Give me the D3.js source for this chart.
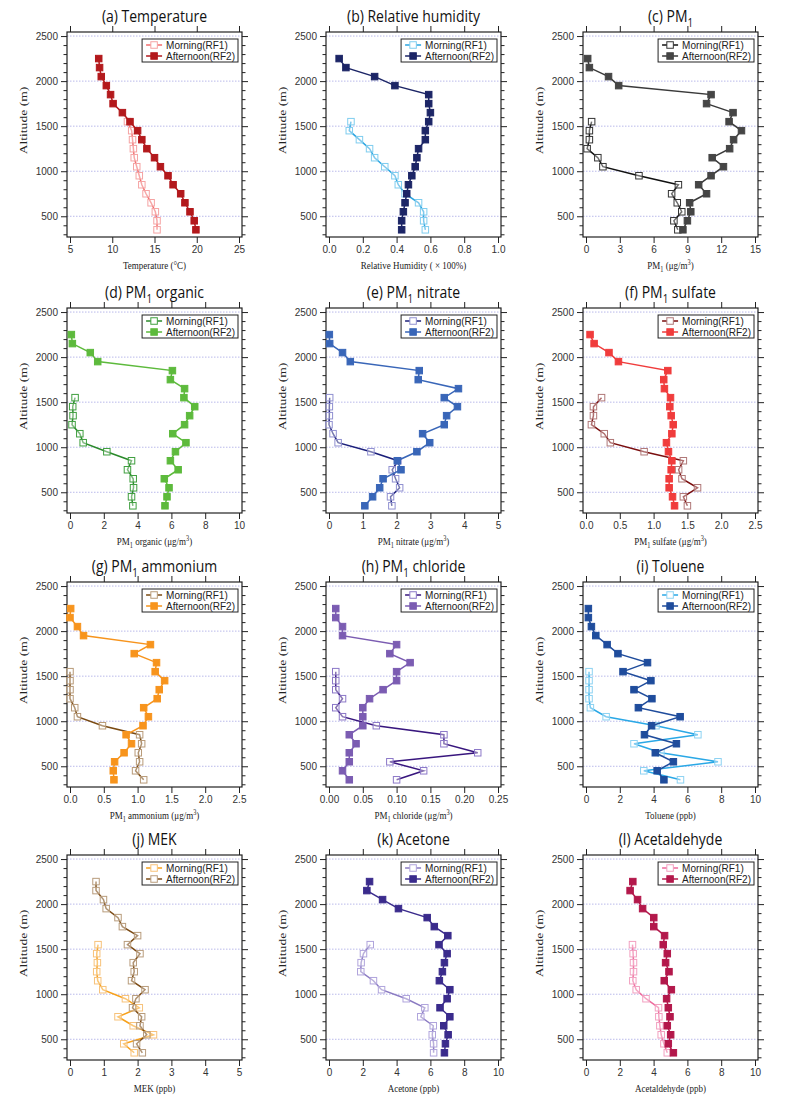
<!DOCTYPE html>
<html>
<head>
<meta charset="utf-8">
<script src="https://cdn.jsdelivr.net/npm/d3@7"></script>
<style>
  body { margin: 0; background: #fff; }
</style>
</head>
<body>
<div id="chart"></div>
<script>
// Altitude bins (m)
const altAfternoon = [2250, 2150, 2050, 1950, 1850, 1750, 1650, 1550, 1450, 1350, 1250, 1150, 1050, 950, 850, 750, 650, 550, 450, 350];
const altMorning = [1550, 1450, 1350, 1250, 1150, 1050, 950, 850, 750, 650, 550, 450, 350];
const altitudeTicks = [500, 1000, 1500, 2000, 2500];

// (a) temperature
const tempMorning = [11.8, 12.3, 12.4, 12.5, 12.6, 12.9, 13.2, 13.5, 14.0, 14.6, 15.1, 15.3, 15.3];
const tempAfternoon = [8.4, 8.5, 8.7, 9.3, 9.8, 10.1, 11.2, 12.1, 13.0, 13.5, 14.1, 15.0, 15.7, 16.6, 17.2, 18.1, 18.6, 19.2, 19.7, 19.9];
const tempTicks = [5, 10, 15, 20, 25];

// (b) relative humidity
const rhMorning = [0.13, 0.12, 0.18, 0.24, 0.27, 0.33, 0.39, 0.41, 0.45, 0.53, 0.56, 0.56, 0.57];
const rhAfternoon = [0.06, 0.10, 0.27, 0.39, 0.59, 0.59, 0.60, 0.59, 0.57, 0.57, 0.53, 0.52, 0.51, 0.49, 0.47, 0.46, 0.45, 0.44, 0.43, 0.43];
const rhTicks = [0, 0.2, 0.4, 0.6, 0.8, 1.0];

// (c) PM1
const pm1Morning = [0.5, 0.3, 0.3, 0.1, 1.05, 1.5, 4.7, 8.2, 7.6, 8.1, 8.5, 7.8, 8.15];
const pm1Afternoon = [0.15, 0.3, 2.0, 2.9, 11.1, 10.7, 13.05, 12.7, 13.8, 13.1, 12.75, 11.2, 12.2, 11.1, 10.0, 10.7, 9.2, 9.3, 9.0, 8.6];
const pm1Ticks = [0, 3, 6, 9, 12, 15];

// (d) PM1 organic
const orgMorning = [0.3, 0.16, 0.18, 0.12, 0.58, 0.78, 2.18, 3.64, 3.4, 3.74, 3.76, 3.64, 3.72];
const orgAfternoon = [0.08, 0.14, 1.2, 1.64, 6.06, 5.94, 6.78, 6.74, 7.38, 7.08, 6.78, 6.08, 6.86, 6.24, 5.94, 6.4, 5.58, 5.86, 5.74, 5.62];
const orgTicks = [0, 2, 4, 6, 8, 10];

// (e) PM1 nitrate
const no3Morning = [0.02, 0.01, 0.01, 0.0, 0.12, 0.27, 1.24, 2.04, 1.87, 1.97, 2.09, 1.82, 1.86];
const no3Afternoon = [0.01, 0.02, 0.4, 0.63, 2.67, 2.64, 3.83, 3.41, 3.8, 3.48, 3.41, 2.77, 2.98, 2.6, 2.02, 2.13, 1.6, 1.5, 1.29, 1.06];
const no3Ticks = [0, 1, 2, 3, 4, 5];

// (f) PM1 sulfate
const so4Morning = [0.23, 0.11, 0.11, 0.08, 0.27, 0.36, 0.86, 1.44, 1.37, 1.42, 1.65, 1.44, 1.5];
const so4Afternoon = [0.06, 0.12, 0.34, 0.48, 1.21, 1.15, 1.16, 1.25, 1.24, 1.26, 1.29, 1.27, 1.19, 1.22, 1.27, 1.26, 1.23, 1.23, 1.28, 1.31];
const so4Ticks = [0, 0.5, 1.0, 1.5, 2.0, 2.5];

// (g) PM1 ammonium
const nh4Morning = [0.0, 0.0, 0.0, 0.0, 0.07, 0.11, 0.48, 1.03, 1.06, 1.01, 1.03, 0.97, 1.09];
const nh4Afternoon = [0.01, 0.0, 0.11, 0.2, 1.19, 0.95, 1.28, 1.26, 1.4, 1.32, 1.29, 1.09, 1.16, 1.08, 0.83, 0.91, 0.8, 0.66, 0.64, 0.65];
const nh4Ticks = [0, 0.5, 1.0, 1.5, 2.0, 2.5];

// (h) PM1 chloride
const chlMorning = [0.01, 0.01, 0.01, 0.02, 0.01, 0.02, 0.07, 0.17, 0.17, 0.22, 0.09, 0.14, 0.10];
const chlAfternoon = [0.01, 0.01, 0.02, 0.02, 0.10, 0.09, 0.12, 0.10, 0.10, 0.08, 0.06, 0.05, 0.05, 0.05, 0.03, 0.04, 0.03, 0.03, 0.02, 0.03];
const chlTicks = [0, 0.05, 0.10, 0.15, 0.20, 0.25];

// (i) toluene
const tolMorning = [0.18, 0.18, 0.18, 0.18, 0.26, 1.19, 4.14, 6.62, 2.84, 4.43, 7.81, 3.42, 5.59];
const tolAfternoon = [0.14, 0.14, 0.32, 0.58, 1.25, 1.89, 3.64, 2.19, 3.84, 2.84, 3.9, 3.1, 5.57, 3.88, 3.46, 5.35, 4.1, 5.17, 4.21, 4.61];
const tolTicks = [0, 2, 4, 6, 8, 10];

// (j) MEK
const mekMorning = [0.83, 0.79, 0.81, 0.79, 0.82, 0.97, 1.64, 2.05, 1.42, 1.87, 2.47, 1.59, 1.9];
const mekAfternoon = [0.77, 0.77, 0.99, 1.07, 1.42, 1.55, 2.0, 1.7, 2.07, 1.87, 1.9, 1.82, 2.22, 1.95, 1.85, 2.12, 2.07, 2.27, 1.97, 2.14];
const mekTicks = [0, 1, 2, 3, 4, 5];

// (k) acetone
const aceMorning = [2.44, 2.04, 1.9, 1.88, 2.63, 3.11, 4.57, 5.67, 5.43, 6.17, 6.11, 6.19, 6.19];
const aceAfternoon = [2.4, 2.24, 3.17, 4.11, 5.81, 6.23, 7.03, 6.51, 6.99, 6.83, 6.71, 6.53, 7.15, 6.99, 6.57, 7.15, 6.79, 7.05, 6.89, 6.83];
const aceTicks = [0, 2, 4, 6, 8, 10];

// (l) acetaldehyde
const acdMorning = [2.75, 2.79, 2.81, 2.81, 2.77, 2.97, 3.55, 4.29, 4.31, 4.37, 4.45, 4.61, 4.81];
const acdAfternoon = [2.77, 2.61, 3.05, 3.35, 4.01, 4.01, 4.65, 4.57, 4.81, 4.71, 4.91, 4.63, 5.05, 4.77, 4.87, 4.97, 4.81, 5.01, 4.87, 5.17];
const acdTicks = [0, 2, 4, 6, 8, 10];

const legendNames = ["Morning(RF1)", "Afternoon(RF2)"];

// "_1" -> subscript, "^3" -> superscript
const panels = [
  { title: "(a) Temperature", label: "Temperature (°C)", ticks: tempTicks, fmt: "d", m: tempMorning, a: tempAfternoon },
  { title: "(b) Relative humidity", label: "Relative Humidity ( \u00d7  100%)", ticks: rhTicks, fmt: ".1f", m: rhMorning, a: rhAfternoon },
  { title: "(c) PM_1", label: "PM_1 (μg/m^3)", ticks: pm1Ticks, fmt: "d", m: pm1Morning, a: pm1Afternoon },
  { title: "(d) PM_1 organic", label: "PM_1 organic (μg/m^3)", ticks: orgTicks, fmt: "d", m: orgMorning, a: orgAfternoon },
  { title: "(e) PM_1 nitrate", label: "PM_1 nitrate (μg/m^3)", ticks: no3Ticks, fmt: "d", m: no3Morning, a: no3Afternoon },
  { title: "(f) PM_1 sulfate", label: "PM_1 sulfate (μg/m^3)", ticks: so4Ticks, fmt: ".1f", m: so4Morning, a: so4Afternoon },
  { title: "(g) PM_1 ammonium", label: "PM_1 ammonium (μg/m^3)", ticks: nh4Ticks, fmt: ".1f", m: nh4Morning, a: nh4Afternoon },
  { title: "(h) PM_1 chloride", label: "PM_1 chloride (μg/m^3)", ticks: chlTicks, fmt: ".2f", m: chlMorning, a: chlAfternoon },
  { title: "(i) Toluene", label: "Toluene (ppb)", ticks: tolTicks, fmt: "d", m: tolMorning, a: tolAfternoon },
  { title: "(j) MEK", label: "MEK (ppb)", ticks: mekTicks, fmt: "d", m: mekMorning, a: mekAfternoon },
  { title: "(k) Acetone", label: "Acetone (ppb)", ticks: aceTicks, fmt: "d", m: aceMorning, a: aceAfternoon },
  { title: "(l) Acetaldehyde", label: "Acetaldehyde (ppb)", ticks: acdTicks, fmt: "d", m: acdMorning, a: acdAfternoon },
];

// line / marker colours per panel: morning line, morning marker, afternoon line, afternoon marker, afternoon filled?
const colors = [
  { ml: "#f26d6d", mm: "#f5a3a3", al: "#b3191c", am: "#b3191c", fill: true },
  { ml: "#2aa4e0", mm: "#7fcdef", al: "#1c2566", am: "#1c2566", fill: true },
  { ml: "#111111", mm: "#333333", al: "#3a3a3a", am: "#454545", fill: true },
  { ml: "#2b8a2b", mm: "#3f9f3f", al: "#5dba3c", am: "#5dba3c", fill: true },
  { ml: "#1b1f7a", mm: "#9090d0", al: "#3966b8", am: "#3966b8", fill: true },
  { ml: "#7a0e0e", mm: "#b07878", al: "#f03c3c", am: "#f03c3c", fill: true },
  { ml: "#7a4a12", mm: "#b89a78", al: "#f7941d", am: "#f7941d", fill: true },
  { ml: "#38167e", mm: "#8c78c8", al: "#7b5cb2", am: "#7b5cb2", fill: true },
  { ml: "#2aa8e6", mm: "#8cd2f2", al: "#1f4c9c", am: "#1f4c9c", fill: true },
  { ml: "#f7a11b", mm: "#f7c27a", al: "#7b4a14", am: "#b89c7c", fill: false },
  { ml: "#8b7bc2", mm: "#b0a4dc", al: "#3a2b8c", am: "#3a2b8c", fill: true },
  { ml: "#ee6a9c", mm: "#f2a0c0", al: "#b3184b", am: "#b3184b", fill: true },
];

const W = 800, H = 1109;
const colLeft = [67, 326, 583];
const rowTop = [32, 308, 582, 855];
const pw = 175, ph = 205;
const ms = 6.5; // marker size

const svg = d3.select("#chart").append("svg")
  .attr("width", W).attr("height", H)
  .style("font-family", "'Liberation Sans', Arial, sans-serif");

function richText(sel, str, size) {
  const parts = str.split(/(_\d|\^\d)/).filter((s) => s.length);
  let shift = 0;
  parts.forEach((p) => {
    let dy = 0, fs = size, txt = p;
    if (p[0] === "_") { dy = size * 0.3; fs = size * 0.7; txt = p.slice(1); }
    else if (p[0] === "^") { dy = -size * 0.4; fs = size * 0.7; txt = p.slice(1); }
    sel.append("tspan").attr("dy", dy - shift).attr("font-size", fs).text(txt);
    shift = dy;
  });
}

panels.forEach((p, i) => {
  const c = colors[i];
  const left = colLeft[i % 3], top = rowTop[Math.floor(i / 3)];
  const g = svg.append("g").attr("transform", `translate(${left},${top})`);

  const lo = p.ticks[0], hi = p.ticks[p.ticks.length - 1];
  const x = d3.scaleLinear().domain([lo, hi]).range([3, pw - 3]);
  const y = d3.scaleLinear().domain([270, 2545]).range([ph, 0]);

  // grid
  g.selectAll(".grid").data(altitudeTicks).join("line")
    .attr("x1", 0).attr("x2", pw)
    .attr("y1", (d) => y(d)).attr("y2", (d) => y(d))
    .attr("stroke", "#b9b9ea").attr("stroke-width", 1)
    .attr("stroke-dasharray", "1.5 1.5");

  // axes
  const minor = d3.range(300, 2501, 100).filter((d) => d % 500 !== 0);
  g.append("g").call(d3.axisLeft(y).tickValues(altitudeTicks).tickSize(6).tickPadding(3).tickFormat(d3.format("d")))
    .call((a) => a.select(".domain").remove());
  g.append("g").call(d3.axisLeft(y).tickValues(minor).tickSize(3.5).tickFormat(""))
    .call((a) => a.select(".domain").remove());
  g.append("g").attr("transform", `translate(${pw},0)`)
    .call(d3.axisRight(y).tickValues(altitudeTicks).tickSize(6).tickFormat(""))
    .call((a) => a.select(".domain").remove());
  g.append("g").attr("transform", `translate(${pw},0)`)
    .call(d3.axisRight(y).tickValues(minor).tickSize(3.5).tickFormat(""))
    .call((a) => a.select(".domain").remove());
  g.append("g").attr("transform", `translate(0,${ph})`)
    .call(d3.axisBottom(x).tickValues(p.ticks).tickSize(6).tickPadding(3).tickFormat(d3.format(p.fmt)))
    .call((a) => a.select(".domain").remove());
  g.append("g")
    .call(d3.axisTop(x).tickValues(p.ticks).tickSize(6).tickFormat(""))
    .call((a) => a.select(".domain").remove());
  g.selectAll(".tick text").attr("font-size", 10).attr("fill", "#333")
    .attr("font-family", "'Liberation Sans', Arial, sans-serif");
  g.selectAll(".tick line").attr("stroke", "#222");

  g.append("rect").attr("width", pw).attr("height", ph)
    .attr("fill", "none").attr("stroke", "#222").attr("stroke-width", 1.2);

  // series
  const line = d3.line().x((d) => x(d[0])).y((d) => y(d[1]));
  const morning = p.m.map((v, k) => [v, altMorning[k]]);
  const afternoon = p.a.map((v, k) => [v, altAfternoon[k]]);

  g.append("path").datum(morning).attr("d", line)
    .attr("fill", "none").attr("stroke", c.ml).attr("stroke-width", 1.5);
  g.selectAll(".mm").data(morning).join("rect")
    .attr("x", (d) => x(d[0]) - ms / 2).attr("y", (d) => y(d[1]) - ms / 2)
    .attr("width", ms).attr("height", ms)
    .attr("fill", "#fff").attr("fill-opacity", 0.4)
    .attr("stroke", c.mm).attr("stroke-width", 1);

  g.append("path").datum(afternoon).attr("d", line)
    .attr("fill", "none").attr("stroke", c.al).attr("stroke-width", 1.5);
  g.selectAll(".am").data(afternoon).join("rect")
    .attr("x", (d) => x(d[0]) - ms / 2).attr("y", (d) => y(d[1]) - ms / 2)
    .attr("width", ms).attr("height", ms)
    .attr("fill", c.fill ? c.am : "#fff").attr("fill-opacity", c.fill ? 1 : 0.4)
    .attr("stroke", c.am).attr("stroke-width", 1);

  // legend
  const lg = g.append("g");
  const box = lg.append("rect").attr("fill", "#fff").attr("stroke", "#222").attr("stroke-width", 1);
  const entries = [
    { name: legendNames[0], line: c.ml, mark: c.mm, fill: false },
    { name: legendNames[1], line: c.al, mark: c.am, fill: c.fill },
  ];
  let tw = 0;
  entries.forEach((e, k) => {
    const yy = 13 + k * 11;
    lg.append("line").attr("x1", 4).attr("x2", 20).attr("y1", yy).attr("y2", yy)
      .attr("stroke", e.line).attr("stroke-width", 1.5);
    lg.append("rect").attr("x", 12 - ms / 2).attr("y", yy - ms / 2).attr("width", ms).attr("height", ms)
      .attr("fill", e.fill ? e.mark : "#fff").attr("stroke", e.mark).attr("stroke-width", 1);
    const t = lg.append("text").attr("x", 24).attr("y", yy + 3.5)
      .attr("font-size", 10).attr("fill", "#222").text(e.name);
    tw = Math.max(tw, t.node().getComputedTextLength());
  });
  const bw = 24 + tw + 3;
  box.attr("x", 0).attr("y", 7).attr("width", bw).attr("height", 23);
  lg.attr("transform", `translate(${pw - 4 - bw},0)`);

  // titles
  const tt = g.append("text").attr("text-anchor", "middle")
    .attr("transform", `translate(${pw / 2},${-10}) scale(1,1.2)`)
    .attr("font-family", "'Open Sans', 'Noto Sans', sans-serif").attr("fill", "#111");
  richText(tt, p.title, 14);

  const xl = g.append("text").attr("text-anchor", "middle")
    .attr("transform", `translate(${pw / 2},${ph + 32}) scale(1,1.2)`)
    .attr("font-family", "'Liberation Serif', 'Times New Roman', serif").attr("fill", "#222");
  richText(xl, p.label, 9);

  g.append("text").attr("text-anchor", "middle")
    .attr("transform", `translate(${-40},${ph / 2 - 14}) rotate(-90) scale(1.3,1)`)
    .attr("font-family", "'Liberation Serif', 'Times New Roman', serif")
    .attr("font-size", 10.5).attr("fill", "#222").text("Altitude (m)");
});
</script>
</body>
</html>
